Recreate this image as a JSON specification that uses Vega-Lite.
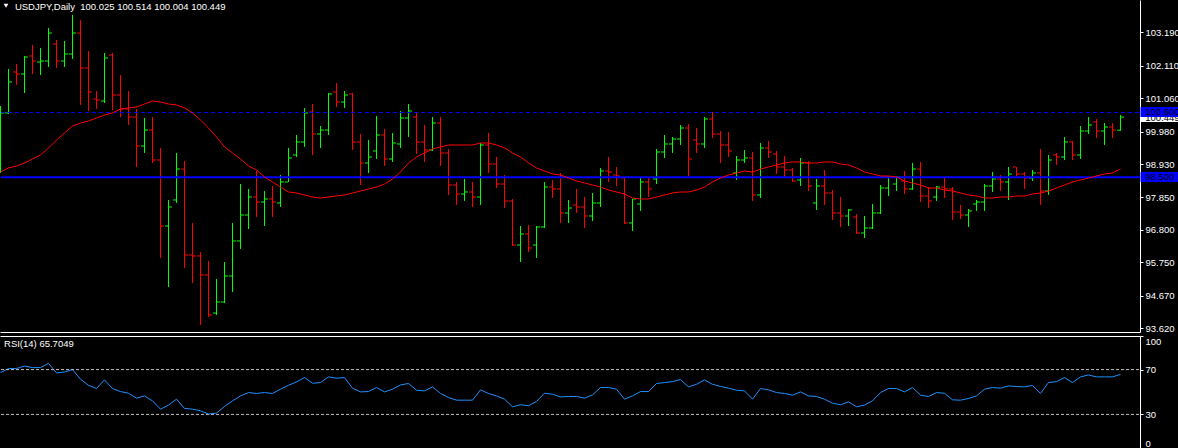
{
"$schema":"https://vega.github.io/schema/vega-lite/v6.json",
"background":"#000000",
"padding":0,
"autosize":{"type":"pad"},
"spacing":4,
"bounds":"flush",
"config":{"view":{"stroke":null},"axis":{"domainColor":"#ffffff","tickColor":"#ffffff","labelColor":"#ffffff","labelFont":"Liberation Sans","labelFontSize":9.5,"labelOverlap":false,"grid":false,"title":null}},
"datasets":{"d":[
{"i":0,"o":98.673,"h":100.807,"l":98.641,"c":100.581,"ma":98.673,"rsi":67.3},
{"i":1,"o":100.581,"h":102.003,"l":100.548,"c":101.583,"ma":98.803,"rsi":70.9},
{"i":2,"o":101.906,"h":102.165,"l":101.486,"c":101.842,"ma":98.867,"rsi":70.9},
{"i":3,"o":101.842,"h":102.424,"l":101.227,"c":102.391,"ma":98.964,"rsi":73.2},
{"i":4,"o":102.424,"h":102.779,"l":101.842,"c":102.262,"ma":99.093,"rsi":71.8},
{"i":5,"o":102.229,"h":102.682,"l":101.809,"c":102.262,"ma":99.223,"rsi":71.8},
{"i":6,"o":102.262,"h":103.329,"l":102.068,"c":103.167,"ma":99.449,"rsi":75.6},
{"i":7,"o":102.811,"h":102.941,"l":102.036,"c":102.262,"ma":99.708,"rsi":67},
{"i":8,"o":102.262,"h":102.908,"l":102.068,"c":102.488,"ma":99.934,"rsi":67.9},
{"i":9,"o":102.488,"h":103.749,"l":102.327,"c":103.167,"ma":100.161,"rsi":70},
{"i":10,"o":103.167,"h":103.587,"l":100.839,"c":102.036,"ma":100.257,"rsi":61.4},
{"i":11,"o":102.036,"h":102.585,"l":100.645,"c":101.26,"ma":100.322,"rsi":56},
{"i":12,"o":101.033,"h":101.292,"l":100.71,"c":101.001,"ma":100.419,"rsi":53.1},
{"i":13,"o":100.969,"h":102.52,"l":100.904,"c":102.359,"ma":100.516,"rsi":60.8},
{"i":14,"o":102.456,"h":102.52,"l":100.678,"c":101.163,"ma":100.581,"rsi":53.1},
{"i":15,"o":101.163,"h":101.809,"l":100.451,"c":100.71,"ma":100.71,"rsi":50.4},
{"i":16,"o":100.71,"h":101.292,"l":100.193,"c":100.451,"ma":100.742,"rsi":48.9},
{"i":17,"o":100.451,"h":100.71,"l":98.835,"c":99.514,"ma":100.775,"rsi":44.5},
{"i":18,"o":99.514,"h":100.419,"l":99.288,"c":100.031,"ma":100.872,"rsi":46.5},
{"i":19,"o":100.031,"h":100.451,"l":98.964,"c":99.061,"ma":100.969,"rsi":42.1},
{"i":20,"o":99.061,"h":99.449,"l":95.893,"c":96.927,"ma":100.936,"rsi":34.7},
{"i":21,"o":96.927,"h":97.768,"l":94.955,"c":97.542,"ma":100.872,"rsi":38.3},
{"i":22,"o":97.768,"h":99.288,"l":97.671,"c":98.77,"ma":100.839,"rsi":43.6},
{"i":23,"o":98.77,"h":99.029,"l":95.57,"c":95.99,"ma":100.742,"rsi":35.3},
{"i":24,"o":95.99,"h":97.025,"l":95.085,"c":95.958,"ma":100.581,"rsi":34.7},
{"i":25,"o":95.958,"h":96.087,"l":93.727,"c":95.344,"ma":100.354,"rsi":33.2},
{"i":26,"o":95.344,"h":95.796,"l":93.985,"c":94.05,"ma":100.096,"rsi":30.3},
{"i":27,"o":94.115,"h":95.214,"l":94.05,"c":94.47,"ma":99.805,"rsi":31.2},
{"i":28,"o":94.47,"h":95.763,"l":94.438,"c":95.311,"ma":99.482,"rsi":37.1},
{"i":29,"o":95.311,"h":97.025,"l":94.794,"c":96.443,"ma":99.288,"rsi":42.1},
{"i":30,"o":96.443,"h":98.285,"l":96.184,"c":97.283,"ma":99.093,"rsi":46.5},
{"i":31,"o":97.283,"h":98.124,"l":96.83,"c":97.865,"ma":98.867,"rsi":49.5},
{"i":32,"o":97.865,"h":98.706,"l":97.218,"c":97.703,"ma":98.738,"rsi":48.7},
{"i":33,"o":97.703,"h":98.059,"l":96.927,"c":97.8,"ma":98.512,"rsi":49.5},
{"i":34,"o":97.8,"h":98.221,"l":97.218,"c":97.703,"ma":98.35,"rsi":48.7},
{"i":35,"o":97.671,"h":98.577,"l":97.542,"c":98.35,"ma":98.188,"rsi":52.5},
{"i":36,"o":98.35,"h":99.449,"l":98.35,"c":99.126,"ma":98.027,"rsi":56},
{"i":37,"o":99.223,"h":99.869,"l":99.158,"c":99.643,"ma":97.994,"rsi":59},
{"i":38,"o":99.643,"h":100.742,"l":99.482,"c":100.581,"ma":97.93,"rsi":62.9},
{"i":39,"o":100.613,"h":100.872,"l":99.223,"c":99.902,"ma":97.865,"rsi":57.8},
{"i":40,"o":99.902,"h":100.161,"l":99.449,"c":100.031,"ma":97.833,"rsi":58.4},
{"i":41,"o":100.031,"h":101.227,"l":99.869,"c":101.195,"ma":97.865,"rsi":63.5},
{"i":42,"o":101.26,"h":101.551,"l":100.775,"c":100.936,"ma":97.897,"rsi":62.3},
{"i":43,"o":100.936,"h":101.292,"l":100.742,"c":101.163,"ma":97.93,"rsi":62.9},
{"i":44,"o":101.195,"h":101.227,"l":99.384,"c":99.643,"ma":97.994,"rsi":53.4},
{"i":45,"o":99.643,"h":99.902,"l":98.253,"c":98.964,"ma":98.059,"rsi":50.1},
{"i":46,"o":98.964,"h":99.708,"l":98.641,"c":99.158,"ma":98.124,"rsi":50.4},
{"i":47,"o":99.352,"h":100.484,"l":99.093,"c":99.869,"ma":98.188,"rsi":54},
{"i":48,"o":99.869,"h":100.064,"l":98.867,"c":99.093,"ma":98.285,"rsi":50.1},
{"i":49,"o":99.093,"h":99.934,"l":98.997,"c":99.611,"ma":98.447,"rsi":52.5},
{"i":50,"o":99.579,"h":100.645,"l":99.449,"c":100.419,"ma":98.673,"rsi":56.3},
{"i":51,"o":100.419,"h":100.872,"l":99.805,"c":100.645,"ma":98.964,"rsi":57.6},
{"i":52,"o":100.451,"h":100.581,"l":99.255,"c":99.643,"ma":99.158,"rsi":51.6},
{"i":53,"o":99.643,"h":100.193,"l":98.997,"c":99.384,"ma":99.288,"rsi":51},
{"i":54,"o":99.384,"h":100.451,"l":99.352,"c":100.257,"ma":99.417,"rsi":54.6},
{"i":55,"o":100.257,"h":100.451,"l":98.867,"c":99.288,"ma":99.482,"rsi":48.7},
{"i":56,"o":99.288,"h":99.417,"l":97.93,"c":98.253,"ma":99.546,"rsi":45.1},
{"i":57,"o":98.253,"h":98.35,"l":97.607,"c":97.962,"ma":99.546,"rsi":42.7},
{"i":58,"o":97.962,"h":98.447,"l":97.736,"c":98.027,"ma":99.546,"rsi":42.7},
{"i":59,"o":98.027,"h":98.35,"l":97.542,"c":97.865,"ma":99.546,"rsi":42.7},
{"i":60,"o":97.865,"h":99.611,"l":97.607,"c":99.546,"ma":99.611,"rsi":51.9},
{"i":61,"o":99.546,"h":99.934,"l":98.641,"c":98.932,"ma":99.611,"rsi":48.7},
{"i":62,"o":98.932,"h":99.158,"l":98.156,"c":98.285,"ma":99.546,"rsi":46.5},
{"i":63,"o":98.285,"h":98.577,"l":97.51,"c":97.736,"ma":99.449,"rsi":43.6},
{"i":64,"o":97.736,"h":97.8,"l":96.281,"c":96.313,"ma":99.288,"rsi":36.8},
{"i":65,"o":96.313,"h":96.927,"l":95.764,"c":96.669,"ma":99.158,"rsi":38.6},
{"i":66,"o":96.669,"h":96.96,"l":96.087,"c":96.216,"ma":98.964,"rsi":37.7},
{"i":67,"o":96.313,"h":96.927,"l":95.893,"c":96.895,"ma":98.803,"rsi":41.6},
{"i":68,"o":96.895,"h":98.35,"l":96.863,"c":98.188,"ma":98.706,"rsi":48.9},
{"i":69,"o":98.188,"h":98.415,"l":97.833,"c":98.124,"ma":98.609,"rsi":48},
{"i":70,"o":98.124,"h":98.641,"l":97.025,"c":97.348,"ma":98.576,"rsi":45.6},
{"i":71,"o":97.348,"h":97.768,"l":97.025,"c":97.509,"ma":98.479,"rsi":46},
{"i":72,"o":97.606,"h":98.124,"l":97.348,"c":97.542,"ma":98.382,"rsi":46},
{"i":73,"o":97.542,"h":97.865,"l":96.863,"c":97.251,"ma":98.318,"rsi":44.5},
{"i":74,"o":97.251,"h":97.994,"l":97.089,"c":97.671,"ma":98.253,"rsi":47.4},
{"i":75,"o":97.671,"h":98.803,"l":97.542,"c":98.706,"ma":98.188,"rsi":54},
{"i":76,"o":98.706,"h":99.158,"l":98.35,"c":98.673,"ma":98.091,"rsi":54},
{"i":77,"o":98.576,"h":98.835,"l":98.221,"c":98.544,"ma":98.027,"rsi":52.5},
{"i":78,"o":98.479,"h":98.479,"l":96.992,"c":97.025,"ma":97.962,"rsi":43.6},
{"i":79,"o":97.025,"h":97.8,"l":96.766,"c":97.8,"ma":97.833,"rsi":46.5},
{"i":80,"o":97.638,"h":98.479,"l":97.413,"c":98.35,"ma":97.8,"rsi":50.4},
{"i":81,"o":98.35,"h":98.479,"l":97.865,"c":98.124,"ma":97.8,"rsi":50.4},
{"i":82,"o":98.447,"h":99.417,"l":98.285,"c":99.32,"ma":97.865,"rsi":57.6},
{"i":83,"o":99.32,"h":99.869,"l":99.126,"c":99.579,"ma":97.93,"rsi":58.4},
{"i":84,"o":99.579,"h":99.805,"l":99.288,"c":99.74,"ma":97.994,"rsi":59.3},
{"i":85,"o":99.74,"h":100.193,"l":99.546,"c":100.096,"ma":98.027,"rsi":61.1},
{"i":86,"o":100.096,"h":100.225,"l":98.544,"c":99.093,"ma":98.027,"rsi":54.6},
{"i":87,"o":99.708,"h":100.096,"l":99.288,"c":99.579,"ma":98.091,"rsi":56.9},
{"i":88,"o":99.579,"h":100.451,"l":99.449,"c":100.387,"ma":98.188,"rsi":60.8},
{"i":89,"o":100.387,"h":100.613,"l":99.772,"c":99.902,"ma":98.35,"rsi":56.9},
{"i":90,"o":99.902,"h":99.999,"l":98.964,"c":99.546,"ma":98.479,"rsi":55},
{"i":91,"o":99.546,"h":99.966,"l":99.158,"c":99.352,"ma":98.576,"rsi":53.4},
{"i":92,"o":98.641,"h":99.191,"l":98.415,"c":99.061,"ma":98.641,"rsi":51.6},
{"i":93,"o":99.061,"h":99.384,"l":98.964,"c":99.126,"ma":98.706,"rsi":51},
{"i":94,"o":99.126,"h":99.32,"l":97.736,"c":97.93,"ma":98.673,"rsi":43.6},
{"i":95,"o":97.93,"h":99.611,"l":97.833,"c":99.449,"ma":98.77,"rsi":53.1},
{"i":96,"o":99.449,"h":99.675,"l":99.126,"c":99.32,"ma":98.835,"rsi":51.9},
{"i":97,"o":99.255,"h":99.352,"l":98.609,"c":98.835,"ma":98.9,"rsi":49.5},
{"i":98,"o":98.835,"h":99.191,"l":98.479,"c":98.738,"ma":98.964,"rsi":48.7},
{"i":99,"o":98.738,"h":98.803,"l":98.35,"c":98.382,"ma":98.997,"rsi":47.2},
{"i":100,"o":98.415,"h":99.126,"l":98.221,"c":98.964,"ma":98.997,"rsi":50.1},
{"i":101,"o":98.964,"h":99.029,"l":98.059,"c":98.221,"ma":98.964,"rsi":46.5},
{"i":102,"o":97.671,"h":98.447,"l":97.445,"c":98.221,"ma":98.964,"rsi":46},
{"i":103,"o":98.221,"h":98.738,"l":97.607,"c":97.994,"ma":98.997,"rsi":43.6},
{"i":104,"o":97.994,"h":98.091,"l":97.121,"c":97.348,"ma":98.997,"rsi":40},
{"i":105,"o":97.348,"h":97.865,"l":96.895,"c":97.251,"ma":98.932,"rsi":38.6},
{"i":106,"o":97.251,"h":97.477,"l":96.927,"c":97.445,"ma":98.9,"rsi":41.2},
{"i":107,"o":97.218,"h":97.315,"l":96.669,"c":96.701,"ma":98.803,"rsi":36.8},
{"i":108,"o":96.701,"h":97.251,"l":96.54,"c":96.863,"ma":98.673,"rsi":38.3},
{"i":109,"o":96.863,"h":97.639,"l":96.83,"c":97.348,"ma":98.609,"rsi":42.1},
{"i":110,"o":97.348,"h":98.253,"l":97.315,"c":98.156,"ma":98.544,"rsi":49.5},
{"i":111,"o":98.156,"h":98.544,"l":97.897,"c":98.512,"ma":98.544,"rsi":53.1},
{"i":112,"o":98.285,"h":98.544,"l":98.059,"c":98.512,"ma":98.512,"rsi":53.1},
{"i":113,"o":98.382,"h":98.706,"l":97.962,"c":98.124,"ma":98.382,"rsi":50.1},
{"i":114,"o":98.124,"h":98.964,"l":98.091,"c":98.77,"ma":98.318,"rsi":54},
{"i":115,"o":98.77,"h":98.997,"l":97.703,"c":97.897,"ma":98.253,"rsi":47.2},
{"i":116,"o":97.897,"h":98.188,"l":97.51,"c":97.736,"ma":98.156,"rsi":46},
{"i":117,"o":97.865,"h":98.221,"l":97.736,"c":98.188,"ma":98.156,"rsi":49.5},
{"i":118,"o":98.188,"h":98.479,"l":97.833,"c":98.124,"ma":98.091,"rsi":48.9},
{"i":119,"o":98.124,"h":98.188,"l":97.121,"c":97.38,"ma":98.059,"rsi":43},
{"i":120,"o":97.38,"h":97.607,"l":97.154,"c":97.283,"ma":97.994,"rsi":42.7},
{"i":121,"o":97.283,"h":97.477,"l":96.895,"c":97.413,"ma":97.93,"rsi":44.2},
{"i":122,"o":97.638,"h":97.768,"l":97.413,"c":97.703,"ma":97.897,"rsi":46.5},
{"i":123,"o":97.703,"h":98.285,"l":97.413,"c":98.221,"ma":97.833,"rsi":52.5},
{"i":124,"o":98.221,"h":98.673,"l":98.027,"c":98.447,"ma":97.833,"rsi":54},
{"i":125,"o":98.447,"h":98.576,"l":98.059,"c":98.35,"ma":97.865,"rsi":53.4},
{"i":126,"o":98.35,"h":98.835,"l":97.768,"c":98.609,"ma":97.865,"rsi":55.4},
{"i":127,"o":98.835,"h":98.835,"l":98.544,"c":98.609,"ma":97.897,"rsi":54.9},
{"i":128,"o":98.609,"h":98.673,"l":98.124,"c":98.479,"ma":97.897,"rsi":54.6},
{"i":129,"o":98.479,"h":98.738,"l":98.382,"c":98.641,"ma":97.962,"rsi":55.8},
{"i":130,"o":98.641,"h":99.417,"l":97.607,"c":98.059,"ma":97.994,"rsi":48.7},
{"i":131,"o":98.059,"h":99.223,"l":97.93,"c":99.061,"ma":98.059,"rsi":58.4},
{"i":132,"o":99.223,"h":99.288,"l":98.9,"c":99.158,"ma":98.156,"rsi":59.3},
{"i":133,"o":99.158,"h":99.805,"l":99.061,"c":99.643,"ma":98.253,"rsi":62.9},
{"i":134,"o":99.643,"h":99.675,"l":99.061,"c":99.223,"ma":98.35,"rsi":58.4},
{"i":135,"o":99.223,"h":100.161,"l":99.093,"c":99.999,"ma":98.415,"rsi":63.5},
{"i":136,"o":99.999,"h":100.451,"l":99.902,"c":100.193,"ma":98.479,"rsi":65.2},
{"i":137,"o":100.29,"h":100.387,"l":99.772,"c":99.999,"ma":98.544,"rsi":63.5},
{"i":138,"o":99.999,"h":100.257,"l":99.546,"c":100.128,"ma":98.609,"rsi":63.5},
{"i":139,"o":100.128,"h":100.257,"l":99.772,"c":100.031,"ma":98.641,"rsi":63.5},
{"i":140,"o":100.025,"h":100.514,"l":100.004,"c":100.449,"ma":98.77,"rsi":65.7049}
]},
"vconcat":[
{
"width":1140,"height":332,
"data":{"name":"d"},
"layer":[
{"mark":{"type":"rule","clip":true,"strokeWidth":1,"opacity":1},
 "encoding":{
  "x":{"field":"i","type":"quantitative","scale":{"domain":[-0.0625,142.4375],"nice":false,"zero":false},"axis":{"orient":"bottom","ticks":false,"labels":false,"domain":true}},
  "y":{"field":"l","type":"quantitative","scale":{"domain":[93.5,104.234],"nice":false,"zero":false},"axis":{"orient":"right","values":[93.62,94.67,95.75,96.8,97.85,98.93,99.98,101.06,102.11,103.19],"tickCount":30,"format":".3f","tickSize":3,"labelPadding":2,"labelOverlap":false,"labelBound":false}},
  "y2":{"field":"h"},
  "color":{"condition":{"test":"datum.c > datum.o","value":"#00ff00"},"value":"#ff0000"}}},
{"transform":[{"filter":"datum.i > 0"}],
 "mark":{"type":"tick","orient":"horizontal","size":3,"thickness":1,"xOffset":-2,"clip":true,"opacity":1},
 "encoding":{"x":{"field":"i","type":"quantitative"},"y":{"field":"o","type":"quantitative"},
  "color":{"condition":{"test":"datum.c > datum.o","value":"#00ff00"},"value":"#ff0000"}}},
{"mark":{"type":"tick","orient":"horizontal","size":3,"thickness":1,"xOffset":2,"clip":true,"opacity":1},
 "encoding":{"x":{"field":"i","type":"quantitative"},"y":{"field":"c","type":"quantitative"},
  "color":{"condition":{"test":"datum.c > datum.o","value":"#00ff00"},"value":"#ff0000"}}},
{"data":{"values":[{}]},"mark":{"type":"rule","color":"#0000ff","strokeWidth":1,"strokeDash":[4,3]},"encoding":{"x":{"datum":0.0625},"x2":{"datum":142.4375},"y":{"datum":100.597}}},
{"data":{"values":[{}]},"mark":{"type":"rule","color":"#0000ff","strokeWidth":2},"encoding":{"x":{"datum":0.0625},"x2":{"datum":142.4375},"y":{"datum":98.5}}},
{"mark":{"type":"line","color":"#ff0000","strokeWidth":1,"clip":true},
 "encoding":{"x":{"field":"i","type":"quantitative"},"y":{"field":"ma","type":"quantitative"}}},
{"data":{"values":[{}]},"mark":{"type":"point","shape":"triangle-down","filled":true,"color":"#ffffff","size":22,"opacity":1},"encoding":{"x":{"datum":0.69},"y":{"datum":104.05}}},
{"data":{"values":[{}]},"mark":{"type":"text","text":"USDJPY,Daily\u00a0 100.025 100.514 100.004 100.449","align":"left","baseline":"middle","font":"Liberation Sans","fontSize":9.5,"color":"#ffffff"},"encoding":{"x":{"datum":1.8},"y":{"datum":104.0}}},
{"data":{"values":[{}]},"mark":{"type":"rect","color":"#ffffff"},"encoding":{"x":{"datum":142.5},"x2":{"datum":147.5},"y":{"datum":100.613},"y2":{"datum":100.29}}},
{"data":{"values":[{}]},"mark":{"type":"text","text":"100.449","align":"left","baseline":"middle","font":"Liberation Sans","fontSize":9.5,"color":"#000000"},"encoding":{"x":{"datum":143.1},"y":{"datum":100.42}}},
{"data":{"values":[{}]},"mark":{"type":"rect","color":"#0000ff"},"encoding":{"x":{"datum":142.5},"x2":{"datum":147.5},"y":{"datum":100.775},"y2":{"datum":100.451}}},
{"data":{"values":[{}]},"mark":{"type":"text","text":"100.600","align":"left","baseline":"middle","font":"Liberation Sans","fontSize":9.5,"color":"#000000"},"encoding":{"x":{"datum":143.1},"y":{"datum":100.61}}},
{"data":{"values":[{}]},"mark":{"type":"rect","color":"#0000ff"},"encoding":{"x":{"datum":142.5},"x2":{"datum":147.5},"y":{"datum":98.673},"y2":{"datum":98.35}}},
{"data":{"values":[{}]},"mark":{"type":"text","text":"98.500","align":"left","baseline":"middle","font":"Liberation Sans","fontSize":9.5,"color":"#000000"},"encoding":{"x":{"datum":143.1},"y":{"datum":98.51}}}
]
},
{
"width":1140,"height":112,
"data":{"name":"d"},
"layer":[
{"mark":{"type":"line","color":"#1e90ff","strokeWidth":1,"clip":true},
 "encoding":{
  "x":{"field":"i","type":"quantitative","scale":{"domain":[-0.0625,142.4375],"nice":false,"zero":false},"axis":{"orient":"top","ticks":false,"labels":false,"domain":true}},
  "y":{"field":"rsi","type":"quantitative","scale":{"domain":[0,100],"nice":false,"zero":false},"axis":{"orient":"right","values":[0,30,70,100],"tickCount":30,"labelFlush":true,"tickSize":3,"labelPadding":2,"labelOverlap":false,"labelBound":false}}}},
{"data":{"values":[{"v":70},{"v":30}]},"mark":{"type":"rule","color":"#c0c0c0","strokeWidth":1,"strokeDash":[3,2]},"encoding":{"x":{"datum":0.0625},"x2":{"datum":142.4375},"y":{"field":"v","type":"quantitative"}}},
{"data":{"values":[{}]},"mark":{"type":"text","text":"RSI(14) 65.7049","align":"left","baseline":"middle","font":"Liberation Sans","fontSize":9.5,"color":"#ffffff"},"encoding":{"x":{"datum":0.44},"y":{"datum":93.3}}}
]
}
]
}
